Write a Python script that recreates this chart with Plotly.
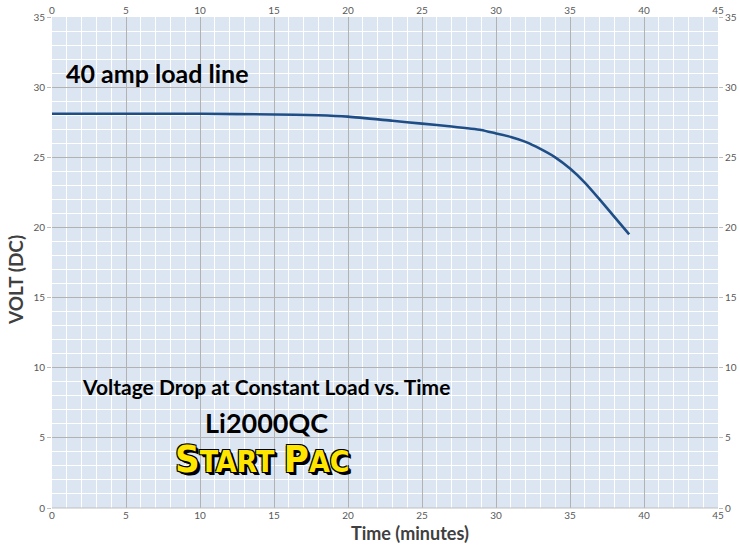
import plotly.graph_objects as go

time_min = [0, 5, 10, 15, 18, 20, 23, 25, 27, 29, 30, 31, 32, 33, 34, 35, 36, 37, 38, 39]
volts = [28.1, 28.1, 28.1, 28.05, 28.0, 27.9, 27.6, 27.4, 27.2, 26.95, 26.7, 26.45, 26.1, 25.6, 25.0, 24.2, 23.2, 22.0, 20.75, 19.5]

x_ticks = [0, 5, 10, 15, 20, 25, 30, 35, 40, 45]
y_ticks = [0, 5, 10, 15, 20, 25, 30, 35]

FONT = "Lato, Carlito, 'Open Sans', sans-serif"
TICKC = "#595959"

fig = go.Figure()
fig.add_trace(go.Scatter(x=time_min, y=volts, mode="lines", line=dict(color="#1F4E86", width=2.6, shape="spline", smoothing=0.6),
                         hoverinfo="skip", showlegend=False))
fig.add_trace(go.Scatter(x=[0], y=[0], xaxis="x2", yaxis="y2", mode="markers", marker=dict(opacity=0), showlegend=False, hoverinfo="skip"))

axis_common = dict(showline=False, zeroline=False, automargin=False, tickfont=dict(family=FONT, size=10, color=TICKC))

fig.update_layout(
    width=740, height=545,
    margin=dict(l=52, r=22, t=17, b=37),
    paper_bgcolor="white", plot_bgcolor="#DCE6F2",
    xaxis=dict(range=[0, 45], tickvals=x_ticks, showgrid=True, gridcolor="#B2B2B2", gridwidth=1,
               minor=dict(dtick=1, showgrid=True, gridcolor="white", gridwidth=1),
               ticks="", ticklen=0, **axis_common),
    xaxis2=dict(range=[0, 45], tickvals=x_ticks, overlaying="x", side="top", showgrid=False, ticks="", **axis_common),
    yaxis=dict(range=[0, 35], tickvals=y_ticks, showgrid=True, gridcolor="#B2B2B2", gridwidth=1,
               minor=dict(dtick=1, showgrid=True, gridcolor="white", gridwidth=1),
               ticks="outside", ticklen=4, tickcolor="#BFBFBF", **axis_common),
    yaxis2=dict(range=[0, 35], tickvals=y_ticks, overlaying="y", side="right", showgrid=False, ticks="outside", ticklen=4, tickcolor="#BFBFBF", **axis_common),
)

fig.add_shape(type="line", xref="paper", yref="paper", x0=0, x1=1, y0=0, y1=0, line=dict(color="#BFBFBF", width=1))

ann = [
    dict(text="<b>VOLT (DC)</b>", x=15, y=280, textangle=-90, size=19, color="#404040"),
    dict(text="<b>Time (minutes)</b>", x=410, y=533, size=18, color="#404040"),
    dict(text="<b>40 amp load line</b>", x=157, y=73, size=25, color="#000000"),
    dict(text="<b>Voltage Drop at Constant Load vs. Time</b>", x=266, y=386, size=21, color="#000000"),
    dict(text="<b>Li2000QC</b>", x=266, y=422, size=27, color="#000000"),
]
for a in ann:
    fig.add_annotation(text=a["text"], xref="paper", yref="paper",
                       x=(a["x"] - 52) / 666, y=(508 - a["y"]) / 491,
                       xanchor="center", yanchor="middle", showarrow=False,
                       textangle=a.get("textangle", 0),
                       font=dict(family=FONT, size=a["size"], color=a["color"]))

fig.add_annotation(
    text="<b><span style='font-size:38px'>S</span>TART <span style='font-size:38px'>P</span>AC</b>",
    xref="paper", yref="paper", x=(262 - 52) / 666, y=(508 - 459) / 491,
    xanchor="center", yanchor="middle", showarrow=False,
    font=dict(family="'Liberation Sans Narrow', 'DejaVu Sans Condensed', sans-serif", size=30, color="#FFE600",
              shadow="2px 2px 0 #000, -1px -1px 0 #000, 1px -1px 0 #000, -1px 1px 0 #000, 3px 3px 0 #000"))

fig.write_html("out.html", config={"displayModeBar": False},
               post_script="document.body.style.margin='0';document.body.style.overflow='hidden';")
